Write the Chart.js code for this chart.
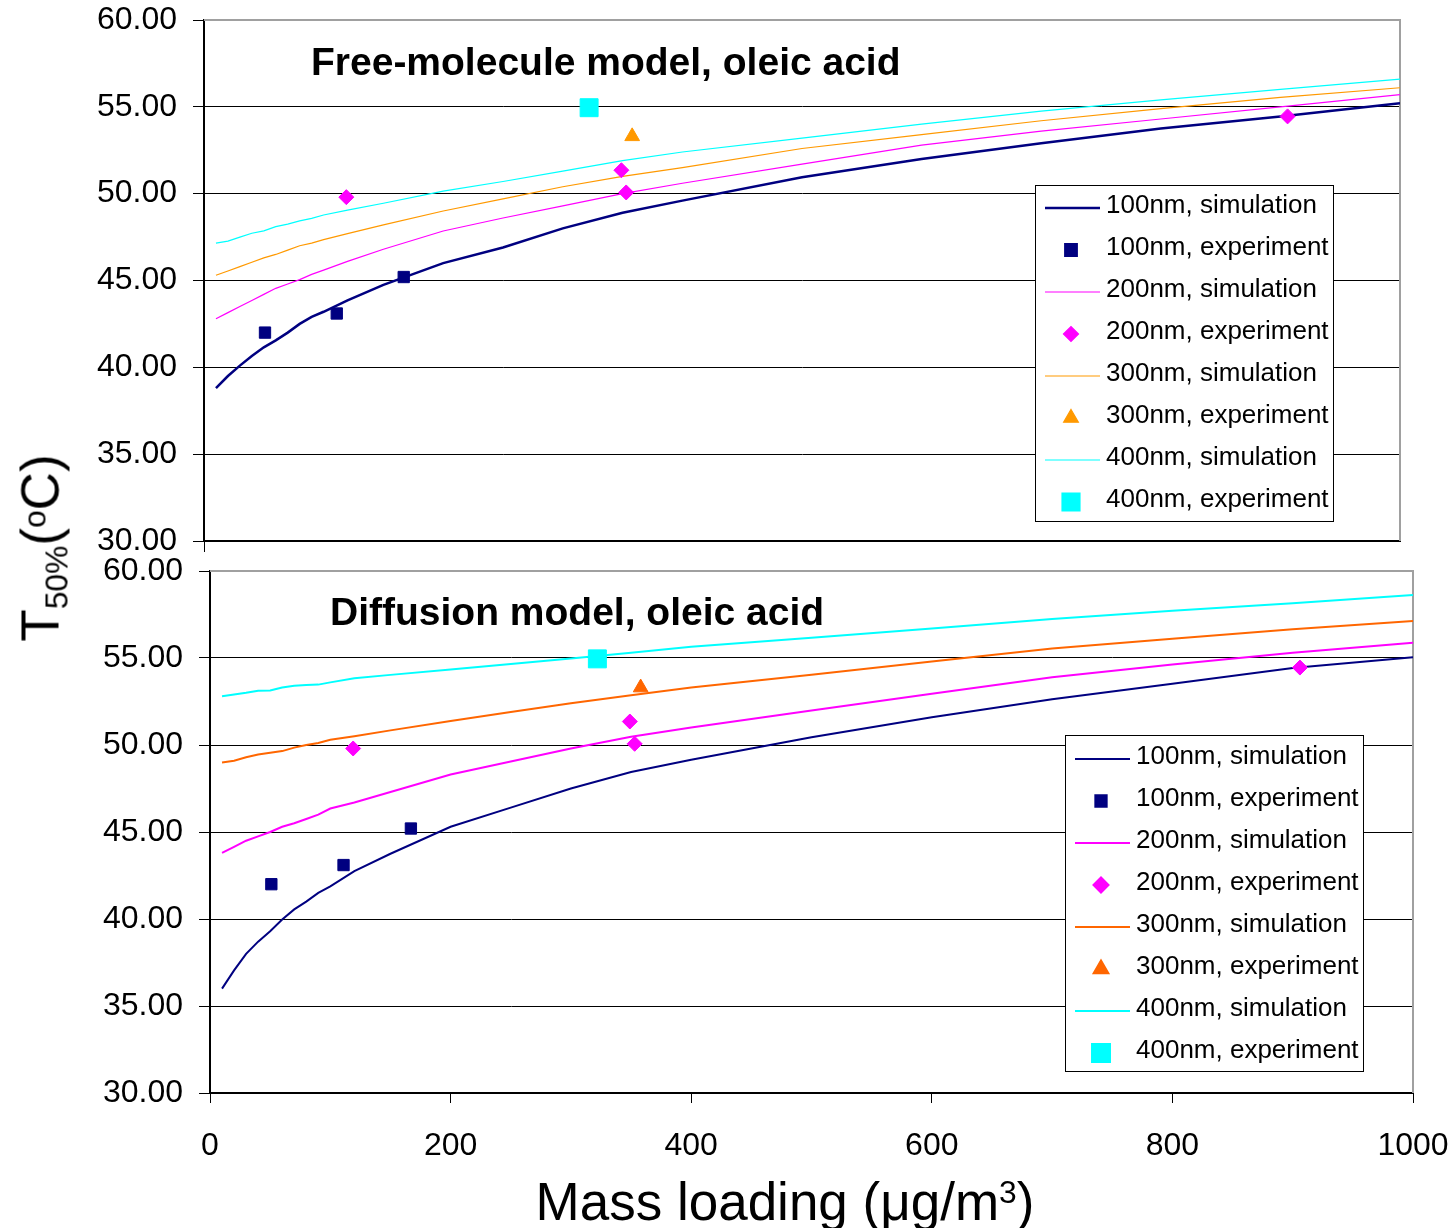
<!DOCTYPE html>
<html>
<head>
<meta charset="utf-8">
<script src="https://cdn.jsdelivr.net/npm/chart.js@4.4.1/dist/chart.umd.min.js"></script>
<style>
html,body{margin:0;padding:0;background:#fff;}
#wrap{position:relative;width:1454px;height:1228px;overflow:hidden;font-family:'Liberation Sans',Arial,Helvetica,sans-serif;color:#000;}
canvas{position:absolute;left:0;}
#c1{top:-20px;}
#c2{top:531px;}
.ptitle{position:absolute;font-weight:bold;font-size:39px;line-height:1;white-space:nowrap;}
#ytitle{position:absolute;left:40px;top:548px;transform:translate(-50%,-50%) rotate(-90deg);font-size:53px;line-height:1;white-space:nowrap;}
#ytitle sub{font-size:0.6em;vertical-align:-0.27em;line-height:0;}
#ytitle sup{font-size:0.6em;vertical-align:0.42em;line-height:0;}
#xtitle{position:absolute;left:785px;top:1175px;transform:translateX(-50%);font-size:53px;line-height:1;white-space:nowrap;}
#xtitle sup{font-size:0.6em;vertical-align:0.55em;line-height:0;}
</style>
</head>
<body>
<div id="wrap">
  <canvas id="c1" width="1454" height="601"></canvas>
  <canvas id="c2" width="1483" height="697"></canvas>
  <div class="ptitle" id="t1" style="left:311px;top:42px;">Free-molecule model, oleic acid</div>
  <div class="ptitle" id="t2" style="left:330px;top:592px;">Diffusion model, oleic acid</div>
  <div id="ytitle">T<sub>50%</sub>(<sup>o</sup>C)</div>
  <div id="xtitle">Mass loading (μg/m<sup>3</sup>)</div>
</div>
<script>
// ---------- DATA ----------
const massLoading = [10,20,30,40,50,60,70,80,90,100,120,150,200,250,300,350,400,500,600,700,800,900,1000];

// Free-molecule model simulations (T50%, °C)
const fmSim100 = [38.8,39.5,40.1,40.65,41.15,41.55,42.0,42.5,42.9,43.2,43.85,44.75,46.0,46.9,48.0,48.9,49.6,50.95,52.0,52.9,53.75,54.45,55.2];
const fmSim200 = [42.8,43.15,43.5,43.85,44.2,44.55,44.8,45.05,45.35,45.6,46.1,46.8,47.85,48.6,49.3,50.0,50.6,51.7,52.8,53.6,54.3,55.0,55.7];
const fmSim300 = [45.3,45.55,45.8,46.05,46.3,46.5,46.75,47.0,47.15,47.35,47.7,48.2,49.0,49.7,50.4,51.0,51.5,52.6,53.4,54.2,54.9,55.55,56.1];
const fmSim400 = [47.15,47.27,47.5,47.72,47.86,48.1,48.25,48.43,48.58,48.77,49.05,49.45,50.15,50.7,51.3,51.9,52.4,53.2,54.0,54.75,55.4,56.0,56.6];

// Diffusion model simulations (T50%, °C)
const dmSim100 = [36.0,37.05,38.0,38.7,39.3,39.97,40.55,41.0,41.5,41.87,42.75,43.75,45.3,46.4,47.5,48.45,49.15,50.45,51.6,52.63,53.52,54.42,55.05];
const dmSim200 = [43.8,44.15,44.5,44.75,45.0,45.3,45.5,45.75,46.0,46.35,46.7,47.3,48.3,49.05,49.8,50.48,51.0,51.98,52.95,53.9,54.62,55.3,55.88];
const dmSim300 = [49.0,49.1,49.3,49.45,49.55,49.65,49.85,50.0,50.12,50.3,50.5,50.84,51.38,51.9,52.4,52.86,53.3,54.04,54.8,55.54,56.1,56.65,57.13];
const dmSim400 = [52.8,52.9,53.0,53.12,53.13,53.3,53.4,53.45,53.47,53.6,53.83,54.03,54.34,54.66,54.97,55.3,55.64,56.17,56.7,57.24,57.71,58.15,58.62];

// Experiments (same measurements shown in both panels)
const exp100X = [51,111,167];          const exp100T = [42.0,43.1,45.2];
const exp200X = [119,349,353,906];     const exp200T = [49.8,51.35,50.07,54.45];
const exp300X = [358];                 const exp300T = [53.3];
const exp400X = [322];                 const exp400T = [54.95];

const yTicks = [30,35,40,45,50,55,60];
const xTicks = [0,200,400,600,800,1000];
const seriesLabels = ['100nm, simulation','100nm, experiment','200nm, simulation','200nm, experiment',
                      '300nm, simulation','300nm, experiment','400nm, simulation','400nm, experiment'];

// ---------- HELPERS ----------
const FONT = "'Liberation Sans', Arial, Helvetica, sans-serif";
Chart.defaults.font.family = FONT;
Chart.defaults.color = '#000';

function pts(xs, ys){ return xs.map((x,i)=>({x:x, y:ys[i]})); }

function buildDatasets(sims, colors, widths){
  const exps = [[exp100X,exp100T],[exp200X,exp200T],[exp300X,exp300T],[exp400X,exp400T]];
  const styles = [['rect',8],['rectRot',7.5],['triangle',8.5],['rect',12.7]];
  const ds = [];
  for (let k=0;k<4;k++){
    ds.push({label: seriesLabels[2*k], data: pts(massLoading, sims[k]), showLine:true,
      borderColor: colors[k], backgroundColor: colors[k], borderWidth: widths[k],
      pointRadius:0, pointHoverRadius:0, order:1, tension:0});
    ds.push({label: seriesLabels[2*k+1], data: pts(exps[k][0], exps[k][1]), showLine:false,
      borderColor: colors[k], backgroundColor: colors[k], pointStyle: styles[k][0],
      pointRadius: styles[k][1], pointBorderWidth:1, order:0});
  }
  return ds;
}

const legendBox = {
  id:'legendBox',
  afterDraw(chart, args, o){
    const ctx = chart.ctx;
    ctx.save();
    ctx.fillStyle = '#fff';
    ctx.fillRect(o.x, o.y, o.w, o.h);
    ctx.strokeStyle = '#000';
    ctx.lineWidth = 1;
    ctx.strokeRect(o.x+0.5, o.y+0.5, o.w, o.h);
    chart.data.datasets.forEach((d,i)=>{
      const cy = o.y + o.first + i*o.rowH;
      ctx.fillStyle = d.borderColor;
      ctx.strokeStyle = d.borderColor;
      if (d.showLine){
        ctx.lineWidth = d.borderWidth;
        ctx.beginPath();
        ctx.moveTo(o.lineX0, cy); ctx.lineTo(o.lineX1, cy);
        ctx.stroke();
      } else {
        Chart.helpers.drawPoint(ctx, {pointStyle:d.pointStyle, radius:d.pointRadius, rotation:0, borderWidth:1}, o.markX, cy);
      }
      ctx.fillStyle = '#000';
      ctx.font = '26px ' + FONT;
      ctx.textBaseline = 'middle';
      ctx.textAlign = 'left';
      ctx.fillText(d.label, o.textX, cy - 2);
    });
    ctx.restore();
  }
};

const frameBorder = {
  id:'frameBorder',
  beforeDatasetsDraw(chart){
    const a = chart.chartArea, ctx = chart.ctx;
    ctx.save();
    ctx.strokeStyle = '#a0a0a0';
    ctx.lineWidth = 2;
    ctx.beginPath();
    ctx.moveTo(a.left, a.top); ctx.lineTo(a.right, a.top); ctx.lineTo(a.right, a.bottom);
    ctx.stroke();
    ctx.restore();
  }
};

function makeOptions(cfg){
  return {
    responsive:false, animation:false, devicePixelRatio:1,
    layout:{padding:{left:0, right:cfg.padRight, top:40, bottom:0}},
    plugins:{legend:{display:false}, tooltip:{enabled:false}, legendBox: cfg.legend},
    scales:{
      x:{type:'linear', min:0, max:1000,
        afterBuildTicks: s => { s.ticks = xTicks.map(v=>({value:v})); },
        afterFit: s => { s.height = cfg.xHeight; },
        border:{display:true, color:'#000', width:2},
        grid:{drawOnChartArea:false, tickLength:cfg.xTickLen,
              color: c => (cfg.showXTicks || c.tick.value===0) ? '#000' : 'rgba(0,0,0,0)'},
        ticks:{display:cfg.showXTicks, padding:cfg.xPad, maxRotation:0, autoSkip:false,
               font:{size:32}, color:'#000', callback: v => String(v)}
      },
      y:{type:'linear', min:30, max:60,
        afterBuildTicks: s => { s.ticks = yTicks.map(v=>({value:v})); },
        afterFit: s => { s.width = cfg.yWidth; },
        border:{display:true, color:'#000', width:2},
        grid:{tickLength:11, tickColor:'#000', lineWidth:1,
              color: c => c.tick.value===60 ? 'rgba(0,0,0,0)' : '#000'},
        ticks:{padding:16, font:{size:32}, color:'#000', callback: v => Number(v).toFixed(2)}
      }
    }
  };
}

// Top panel: free-molecule model (canvas top at -20px, chart area 20..541)
new Chart(document.getElementById('c1'), {
  type:'scatter',
  data:{datasets: buildDatasets([fmSim100,fmSim200,fmSim300,fmSim400],
        ['#000080','#FF00FF','#FF9900','#00FFFF'], [2.5,1.2,1.2,1.2])},
  options: makeOptions({padRight:54, yWidth:204, xHeight:40, xTickLen:11, showXTicks:false, xPad:0,
    legend:{x:1035, y:205, w:298, h:336, first:23, rowH:42, lineX0:1045, lineX1:1100, markX:1071, textX:1106}}),
  plugins:[frameBorder, legendBox]
});

// Bottom panel: diffusion model (canvas top at 531px, chart area 571..1093)
new Chart(document.getElementById('c2'), {
  type:'scatter',
  data:{datasets: buildDatasets([dmSim100,dmSim200,dmSim300,dmSim400],
        ['#000080','#FF00FF','#FF6600','#00FFFF'], [2,2,2,2])},
  options: makeOptions({padRight:70, yWidth:210, xHeight:135, xTickLen:10, showXTicks:true, xPad:24,
    legend:{x:1065, y:204, w:298, h:336, first:24, rowH:42, lineX0:1075, lineX1:1130, markX:1101, textX:1136}}),
  plugins:[frameBorder, legendBox]
});
</script>
</body>
</html>
